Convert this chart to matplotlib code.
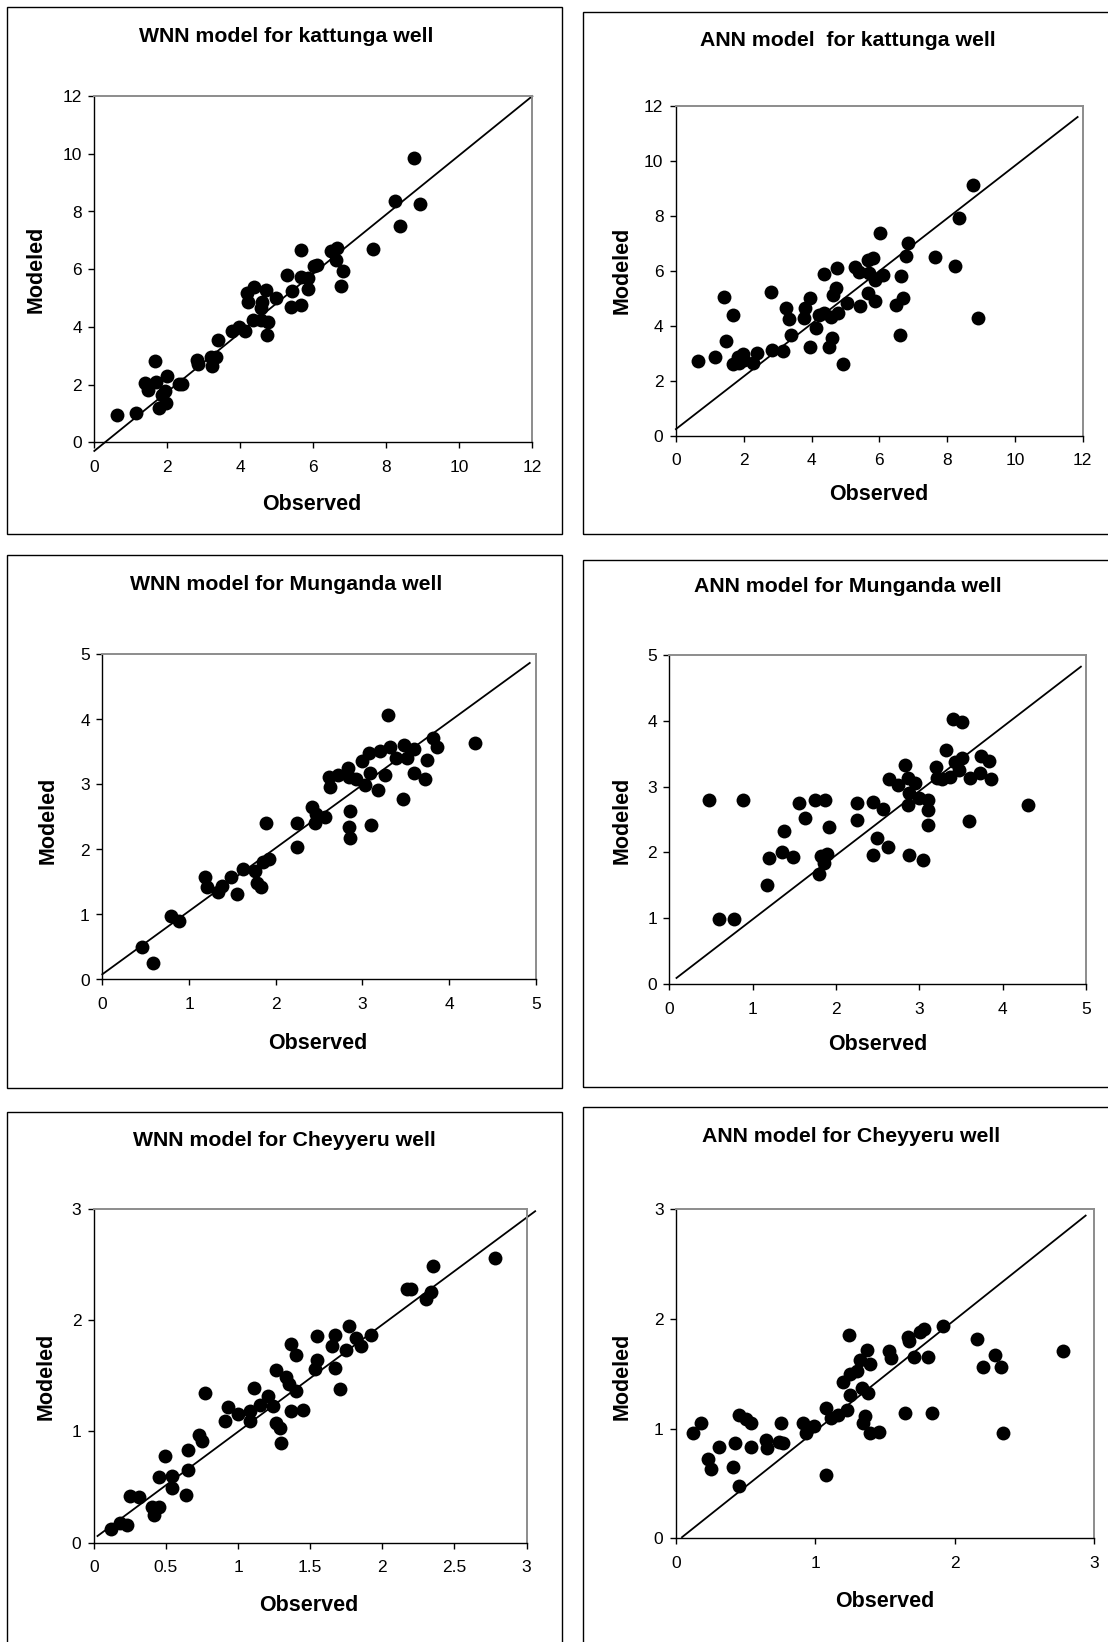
import matplotlib
matplotlib.use("Agg")
import matplotlib.pyplot as plt
from matplotlib.patches import Rectangle

plt.rcParams['font.family'] = ['Liberation Sans', 'DejaVu Sans']

W, H = 1108, 1642

# ---------------- data ----------------
titles = ["WNN model for kattunga well", "ANN model  for kattunga well",
          "WNN model for Munganda well", "ANN model for Munganda well",
          "WNN model for Cheyyeru well", "ANN model for Cheyyeru well"]

wnn_k_obs = [0.63, 1.15, 1.39, 1.47, 1.66, 1.68, 1.93, 1.98, 1.78, 1.96, 1.85, 2.32, 2.41, 2.82, 2.85,
             3.19, 3.23, 3.34, 3.38, 3.76, 3.96, 4.12, 4.19, 4.37, 4.21, 4.70, 4.97, 4.60, 4.56, 4.36,
             4.56, 4.77, 4.74, 5.29, 5.42, 5.40, 5.65, 5.67, 5.65, 5.86, 5.86, 6.02, 6.09, 6.48, 6.66,
             6.61, 6.82, 6.77, 7.64, 8.24, 8.38, 8.92, 8.77]
wnn_k_mod = [0.94, 1.03, 2.07, 1.82, 2.82, 2.10, 1.79, 2.30, 1.18, 1.37, 1.65, 2.02, 2.02, 2.85, 2.70,
             2.97, 2.65, 2.97, 3.55, 3.87, 4.01, 3.86, 5.17, 5.37, 4.85, 5.28, 4.99, 4.88, 4.64, 4.24,
             4.24, 4.18, 3.72, 5.80, 5.25, 4.70, 4.76, 6.67, 5.74, 5.71, 5.30, 6.11, 6.15, 6.64, 6.72,
             6.32, 5.95, 5.42, 6.70, 8.36, 7.50, 8.26, 9.86]

ann_k_obs = [0.64, 1.16, 1.43, 1.68, 1.48, 1.69, 1.82, 1.97, 1.87, 2.02, 2.28, 2.40, 2.82, 2.83, 3.15,
             3.25, 3.35, 3.39, 3.77, 3.82, 3.96, 3.96, 4.13, 4.21, 4.36, 4.37, 4.58, 4.62, 4.72, 4.76,
             4.77, 4.61, 4.53, 4.92, 5.04, 5.28, 5.41, 5.42, 5.66, 5.82, 5.71, 5.87, 5.68, 5.86, 6.03,
             6.10, 6.49, 6.69, 6.63, 6.62, 6.79, 6.84, 7.63, 8.22, 8.36, 8.77, 8.92]
ann_k_mod = [2.73, 2.87, 5.07, 4.39, 3.45, 2.63, 2.88, 2.97, 2.64, 2.76, 2.64, 3.01, 5.24, 3.12, 3.09,
             4.64, 4.24, 3.67, 4.28, 4.64, 5.01, 3.25, 3.92, 4.40, 4.48, 5.89, 4.34, 5.13, 5.37, 6.10,
             4.48, 3.55, 3.25, 2.62, 4.85, 6.16, 5.98, 4.73, 6.40, 6.46, 5.92, 5.67, 5.21, 4.91, 7.39,
             5.85, 4.76, 5.01, 5.81, 3.67, 6.53, 7.01, 6.50, 6.17, 7.92, 9.12, 4.29]

wnn_m_obs = [0.46, 0.58, 0.79, 0.88, 1.18, 1.21, 1.33, 1.38, 1.48, 1.55, 1.62, 1.76, 1.78, 1.83, 1.85,
             1.92, 1.89, 2.24, 2.24, 2.42, 2.47, 2.45, 2.57, 2.61, 2.63, 2.72, 2.83, 2.85, 2.93, 3.03,
             3.00, 3.08, 3.20, 3.32, 3.30, 3.39, 3.48, 3.51, 3.60, 3.09, 3.26, 3.18, 3.47, 2.86, 2.84,
             2.86, 3.10, 3.60, 3.72, 3.74, 3.82, 3.86, 4.30]
wnn_m_mod = [0.50, 0.25, 0.97, 0.90, 1.58, 1.42, 1.34, 1.44, 1.58, 1.31, 1.70, 1.67, 1.49, 1.43, 1.81,
             1.86, 2.41, 2.40, 2.04, 2.65, 2.55, 2.41, 2.50, 3.11, 2.96, 3.15, 3.26, 3.11, 3.08, 2.99,
             3.36, 3.48, 3.51, 3.58, 4.07, 3.40, 3.61, 3.40, 3.54, 3.18, 3.15, 2.91, 2.78, 2.59, 2.35,
             2.17, 2.38, 3.18, 3.08, 3.37, 3.71, 3.58, 3.64]

ann_m_obs = [0.47, 0.88, 0.59, 0.78, 1.17, 1.20, 1.35, 1.38, 1.48, 1.56, 1.63, 1.75, 1.87, 1.91, 1.80,
             1.82, 1.89, 1.85, 2.25, 2.25, 2.44, 2.56, 2.49, 2.45, 2.62, 2.64, 2.75, 2.83, 2.86, 2.95,
             2.88, 2.87, 3.00, 3.11, 3.11, 3.10, 2.88, 3.04, 3.20, 3.21, 3.27, 3.32, 3.37, 3.40, 3.51,
             3.43, 3.51, 3.48, 3.61, 3.73, 3.74, 3.84, 3.86, 3.60, 4.30]
ann_m_mod = [2.80, 2.80, 0.99, 0.99, 1.50, 1.92, 2.01, 2.33, 1.93, 2.75, 2.52, 2.80, 2.80, 2.38, 1.67,
             1.94, 1.98, 1.84, 2.75, 2.49, 2.76, 2.66, 2.22, 1.96, 2.09, 3.11, 3.02, 3.33, 3.13, 3.06,
             2.90, 2.72, 2.82, 2.80, 2.65, 2.42, 1.96, 1.88, 3.29, 3.13, 3.11, 3.56, 3.15, 4.03, 3.98,
             3.38, 3.44, 3.25, 3.13, 3.21, 3.46, 3.39, 3.12, 2.48, 2.72]

wnn_c_obs = [0.12, 0.18, 0.23, 0.25, 0.31, 0.40, 0.45, 0.42, 0.45, 0.49, 0.54, 0.54, 0.64, 0.65, 0.65,
             0.73, 0.75, 0.77, 0.91, 0.93, 1.00, 1.08, 1.08, 1.11, 1.15, 1.21, 1.24, 1.26, 1.26, 1.29,
             1.30, 1.33, 1.35, 1.40, 1.37, 1.45, 1.37, 1.40, 1.53, 1.55, 1.55, 1.67, 1.71, 1.65, 1.67,
             1.75, 1.77, 1.82, 1.85, 1.92, 2.17, 2.20, 2.30, 2.34, 2.35, 2.78]
wnn_c_mod = [0.12, 0.18, 0.16, 0.42, 0.41, 0.32, 0.32, 0.25, 0.59, 0.78, 0.60, 0.49, 0.43, 0.65, 0.83,
             0.97, 0.91, 1.35, 1.09, 1.22, 1.16, 1.09, 1.18, 1.39, 1.24, 1.32, 1.23, 1.55, 1.08, 1.03,
             0.90, 1.49, 1.43, 1.36, 1.18, 1.19, 1.79, 1.69, 1.56, 1.64, 1.86, 1.57, 1.38, 1.77, 1.87,
             1.73, 1.95, 1.84, 1.77, 1.87, 2.28, 2.28, 2.19, 2.25, 2.49, 2.56]

ann_c_obs = [0.12, 0.18, 0.23, 0.25, 0.31, 0.41, 0.42, 0.45, 0.45, 0.50, 0.54, 0.54, 0.645, 0.65, 0.74,
             0.77, 0.75, 0.91, 0.93, 0.99, 1.08, 1.08, 1.11, 1.16, 1.23, 1.24, 1.196, 1.25, 1.30, 1.32,
             1.37, 1.395, 1.25, 1.335, 1.38, 1.36, 1.34, 1.395, 1.455, 1.53, 1.54, 1.665, 1.67, 1.75,
             1.78, 1.71, 1.81, 1.916, 1.64, 1.84, 2.16, 2.20, 2.29, 2.33, 2.35, 2.775]
ann_c_mod = [0.96, 1.05, 0.72, 0.63, 0.83, 0.65, 0.87, 0.48, 1.12, 1.09, 1.05, 0.83, 0.90, 0.82, 0.88,
             0.87, 1.05, 1.05, 0.96, 1.02, 0.58, 1.19, 1.10, 1.12, 1.17, 1.85, 1.42, 1.50, 1.52, 1.62,
             1.72, 1.59, 1.31, 1.37, 1.32, 1.11, 1.05, 0.96, 0.97, 1.71, 1.64, 1.83, 1.80, 1.88,
             1.91, 1.65, 1.65, 1.93, 1.14, 1.14, 1.82, 1.56, 1.67, 1.56, 0.96, 1.71]

obs_sets = [wnn_k_obs, ann_k_obs, wnn_m_obs, ann_m_obs, wnn_c_obs, ann_c_obs]
mod_sets = [wnn_k_mod, ann_k_mod, wnn_m_mod, ann_m_mod, wnn_c_mod, ann_c_mod]

# fitted lines (endpoints in data units)
line_x = [[0, 12], [0, 11.85], [0, 4.93], [0.085, 4.94], [0.025, 3.06], [0.043, 2.94]]
line_y = [[-0.3, 12.0], [0.25, 11.6], [0.08, 4.87], [0.096, 4.82], [0.06, 2.98], [0.01, 2.94]]

axis_max = [12, 12, 5, 5, 3, 3]
x_ticks = [list(range(0, 13, 2)), list(range(0, 13, 2)), [0, 1, 2, 3, 4, 5], [0, 1, 2, 3, 4, 5],
           [0, 0.5, 1, 1.5, 2, 2.5, 3], [0, 1, 2, 3]]
x_ticklabels = [[str(v) for v in range(0, 13, 2)], [str(v) for v in range(0, 13, 2)],
                ["0", "1", "2", "3", "4", "5"], ["0", "1", "2", "3", "4", "5"],
                ["0", "0.5", "1", "1.5", "2", "2.5", "3"], ["0", "1", "2", "3"]]
y_ticks = [list(range(0, 13, 2)), list(range(0, 13, 2)), [0, 1, 2, 3, 4, 5], [0, 1, 2, 3, 4, 5],
           [0, 1, 2, 3], [0, 1, 2, 3]]

# ---------------- layout (pixels) ----------------
axes_px = [  # left, right, top, bottom
    (94.3, 532.3, 96.1, 442.3),
    (675.9, 1082.7, 106.0, 436.0),
    (102.3, 535.8, 654.5, 979.5),
    (669.4, 1085.9, 654.8, 984.3),
    (93.9, 526.5, 1209.0, 1542.7),
    (676.0, 1094.0, 1209.0, 1538.3),
]
box_px = [  # left, right, top, bottom
    (7, 562, 7.5, 534),
    (583, 1115, 12, 534),
    (7, 562, 555, 1088),
    (583, 1115, 560, 1087),
    (7, 562, 1112, 1660),
    (582.5, 1115, 1107, 1660),
]
title_px = [(286, 36), (848, 41), (286, 585), (848, 587), (284, 1141), (851, 1136)]
xlab_px = [(312, 504), (879, 494), (318, 1043), (878, 1045), (309, 1605), (885, 1601)]
ylab_px = [(36, 269), (622, 270), (48, 820), (622, 820), (46, 1376), (622, 1376)]

fig = plt.figure(figsize=(W / 100, H / 100), dpi=100)
fig.patch.set_facecolor("white")


def fx(x):
    return x / W


def fy(y):
    return 1 - y / H


for i in range(6):
    l, r, t, b = axes_px[i]
    ax = fig.add_axes([fx(l), fy(b), (r - l) / W, (b - t) / H])
    ax.scatter(obs_sets[i], mod_sets[i], s=100, color="black", linewidths=0, zorder=3, clip_on=False)
    ax.plot(line_x[i], line_y[i], color="black", lw=1.3, clip_on=False, zorder=2)
    m = axis_max[i]
    ax.set_xlim(0, m)
    ax.set_ylim(0, m)
    ax.set_xticks(x_ticks[i])
    ax.set_xticklabels(x_ticklabels[i])
    ax.set_yticks(y_ticks[i])
    ax.set_yticklabels([str(v) for v in y_ticks[i]])
    ax.tick_params(axis="both", direction="out", length=4, width=1, labelsize=12.5, colors="black")
    ax.tick_params(axis="x", pad=8.5)
    ax.tick_params(axis="y", pad=5)
    for side in ("left", "bottom"):
        ax.spines[side].set_color("black")
        ax.spines[side].set_linewidth(1.0)
    for side in ("top", "right"):
        ax.spines[side].set_color("#8c8c8c")
        ax.spines[side].set_linewidth(1.4)

    bl, br, bt, bb = box_px[i]
    fig.patches.append(Rectangle((fx(bl), fy(bb)), (br - bl) / W, (bb - bt) / H,
                                 transform=fig.transFigure, fill=False, edgecolor="black",
                                 lw=1.0, clip_on=False))
    fig.text(fx(title_px[i][0]), fy(title_px[i][1]), titles[i], ha="center", va="center",
             fontsize=15.3, fontweight="bold")
    fig.text(fx(xlab_px[i][0]), fy(xlab_px[i][1]), "Observed", ha="center", va="center",
             fontsize=15.5, fontweight="bold")
    fig.text(fx(ylab_px[i][0]), fy(ylab_px[i][1]), "Modeled", ha="center", va="center",
             fontsize=15.5, fontweight="bold", rotation=90)

fig.savefig("out.png", dpi=100, facecolor="white")
